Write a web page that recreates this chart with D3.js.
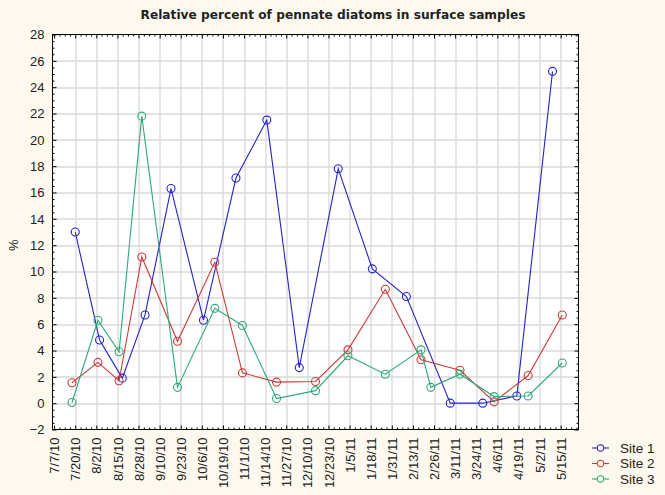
<!DOCTYPE html>
<html>
<head>
<meta charset="utf-8">
<script src="https://cdn.jsdelivr.net/npm/d3@7"></script>
<style>
  body { margin: 0; background: #fdf9ee; }
  svg { display: block; }
</style>
</head>
<body>
<div id="chart"></div>
<script>
var tickDates = ["7/7/10", "7/20/10", "8/2/10", "8/15/10", "8/28/10", "9/10/10", "9/23/10", "10/6/10",
  "10/19/10", "11/1/10", "11/14/10", "11/27/10", "12/10/10", "12/23/10", "1/5/11", "1/18/11",
  "1/31/11", "2/13/11", "2/26/11", "3/11/11", "3/24/11", "4/6/11", "4/19/11", "5/2/11", "5/15/11"];
var yTicks = [-2, 0, 2, 4, 6, 8, 10, 12, 14, 16, 18, 20, 22, 24, 26, 28];

var site1Dates = ["7/20/10", "8/4/10", "8/18/10", "9/1/10", "9/17/10", "10/7/10", "10/27/10", "11/15/10",
  "12/5/10", "12/29/10", "1/19/11", "2/9/11", "3/8/11", "3/28/11", "4/18/11", "5/10/11"];
var site1Values = [13.0, 4.8, 1.9, 6.7, 16.3, 6.3, 17.1, 21.5, 2.7, 17.8, 10.2, 8.1, 0, 0, 0.55, 25.2];

var site2Dates = ["7/18/10", "8/3/10", "8/16/10", "8/30/10", "9/21/10", "10/14/10", "10/31/10", "11/21/10",
  "12/15/10", "1/4/11", "1/27/11", "2/18/11", "3/14/11", "4/4/11", "4/25/11", "5/16/11"];
var site2Values = [1.55, 3.1, 1.7, 11.1, 4.7, 10.7, 2.3, 1.6, 1.65, 4.05, 8.65, 3.3, 2.5, 0.1, 2.1, 6.7];

var site3Dates = ["7/18/10", "8/3/10", "8/16/10", "8/30/10", "9/21/10", "10/14/10", "10/31/10", "11/21/10",
  "12/15/10", "1/4/11", "1/27/11", "2/18/11", "2/24/11", "3/14/11", "4/4/11", "4/25/11", "5/16/11"];
var site3Values = [0.05, 6.3, 3.9, 21.8, 1.2, 7.2, 5.9, 0.35, 0.95, 3.6, 2.2, 4.05, 1.2, 2.2, 0.5, 0.55, 3.05];

var seriesNames = ["Site 1", "Site 2", "Site 3"];
var seriesColors = ["#2424c4", "#cc3a3a", "#2fa878"];

var width = 665, height = 495;
var margin = {top: 34.5, right: 86.5, bottom: 65.5, left: 52.5};
var plotW = width - margin.left - margin.right,
    plotH = height - margin.top - margin.bottom;

var parseDate = d3.timeParse("%m/%d/%y");
var fmt = d3.timeFormat("%-m/%-d/%y");

var x = d3.scaleTime()
  .domain([new Date(2010, 6, 6), new Date(2011, 4, 26)])
  .range([0, plotW]);
var y = d3.scaleLinear()
  .domain([-2, 28])
  .range([plotH, 0]);

var svg = d3.select("#chart").append("svg")
  .attr("width", width)
  .attr("height", height);

svg.append("rect").attr("width", width).attr("height", height).attr("fill", "#fdf9ee");

svg.append("text")
  .attr("x", 333)
  .attr("y", 19)
  .attr("text-anchor", "middle")
  .style("font-family", "DejaVu Sans, sans-serif")
  .style("font-weight", "bold")
  .style("font-size", "12.2px")
  .attr("fill", "#222")
  .text("Relative percent of pennate diatoms in surface samples");

var g = svg.append("g")
  .attr("transform", "translate(" + margin.left + "," + margin.top + ")");

g.append("rect").attr("width", plotW).attr("height", plotH).attr("fill", "#fff");

var xTickVals = tickDates.map(parseDate);

// grid
g.append("g").selectAll("line.vg")
  .data(xTickVals.slice(1))
  .enter().append("line")
  .attr("x1", function (d) { return Math.round(x(d)) + 0.5; })
  .attr("x2", function (d) { return Math.round(x(d)) + 0.5; })
  .attr("y1", 0).attr("y2", plotH)
  .attr("stroke", "#d9d9d9").attr("stroke-width", 1.3);
g.append("g").selectAll("line.hg")
  .data(yTicks.slice(1, -1))
  .enter().append("line")
  .attr("y1", function (d) { return Math.round(y(d)) + 0.5; })
  .attr("y2", function (d) { return Math.round(y(d)) + 0.5; })
  .attr("x1", 0).attr("x2", plotW)
  .attr("stroke", "#d9d9d9").attr("stroke-width", 1.3);

// minor tick values
var xMinor = [];
for (var i = 0; i < xTickVals.length; i++) {
  for (var k = 1; k < 4; k++) {
    var t = d3.timeHour.offset(xTickVals[i], k * 78);
    if (x(t) < plotW) xMinor.push(t);
  }
}
var yMinor = [];
for (var j = 0; j < yTicks.length - 1; j++) {
  for (var m = 1; m < 4; m++) yMinor.push(yTicks[j] + m * 0.5);
}

function inwardTicks(sel, axisFn, scale, vals, size) {
  sel.call(axisFn(scale).tickValues(vals).tickSize(-size).tickFormat(""))
    .call(function (a) { a.select(".domain").remove(); })
    .selectAll("line").attr("stroke", "#000");
}

// bottom axis with labels
var xAxisG = g.append("g").attr("transform", "translate(0," + plotH + ")");
inwardTicks(xAxisG.append("g"), d3.axisBottom, x, xMinor, 2);
xAxisG.append("g")
  .call(d3.axisBottom(x).tickValues(xTickVals).tickSize(-4).tickFormat(fmt))
  .call(function (a) { a.select(".domain").remove(); })
  .call(function (a) { a.selectAll("line").attr("stroke", "#000"); })
  .selectAll("text")
  .attr("transform", "rotate(-90)")
  .attr("x", -8)
  .attr("y", 0)
  .attr("dy", "0.35em")
  .style("text-anchor", "end")
  .style("font-family", "Liberation Sans, Arial, sans-serif")
  .style("font-size", "13px")
  .attr("fill", "#222");

// top axis
var topG = g.append("g");
inwardTicks(topG.append("g"), d3.axisTop, x, xMinor, 2);
inwardTicks(topG.append("g"), d3.axisTop, x, xTickVals, 4);

// left axis
var yAxisG = g.append("g");
inwardTicks(yAxisG.append("g"), d3.axisLeft, y, yMinor, 2);
yAxisG.append("g")
  .call(d3.axisLeft(y).tickValues(yTicks).tickSize(-4).tickPadding(8))
  .call(function (a) { a.select(".domain").remove(); })
  .call(function (a) { a.selectAll("line").attr("stroke", "#000"); })
  .selectAll("text")
  .style("font-family", "Liberation Sans, Arial, sans-serif")
  .style("font-size", "13px")
  .attr("fill", "#222");

// right axis
var rightG = g.append("g").attr("transform", "translate(" + plotW + ",0)");
inwardTicks(rightG.append("g"), d3.axisRight, y, yMinor, 2);
inwardTicks(rightG.append("g"), d3.axisRight, y, yTicks, 4);

g.append("rect").attr("width", plotW).attr("height", plotH)
  .attr("fill", "none").attr("stroke", "#000").attr("stroke-width", 1);

svg.append("text")
  .attr("transform", "translate(18," + (margin.top + y(12)) + ") rotate(-90)")
  .attr("text-anchor", "middle")
  .style("font-family", "Liberation Sans, Arial, sans-serif")
  .style("font-size", "13px")
  .attr("fill", "#222")
  .text("%");

// series
var series = [
  {dates: site1Dates, values: site1Values},
  {dates: site2Dates, values: site2Values},
  {dates: site3Dates, values: site3Values}
];

var line = d3.line()
  .x(function (d) { return x(d.date); })
  .y(function (d) { return y(d.value); });

series.forEach(function (s, si) {
  var pts = s.dates.map(function (d, i) { return {date: parseDate(d), value: s.values[i]}; });
  g.append("path")
    .datum(pts)
    .attr("d", line)
    .attr("fill", "none")
    .attr("stroke", seriesColors[si])
    .attr("stroke-width", 1.1);
  g.selectAll(".pt" + si)
    .data(pts)
    .enter().append("circle")
    .attr("class", "pt" + si)
    .attr("cx", function (d) { return x(d.date); })
    .attr("cy", function (d) { return y(d.value); })
    .attr("r", 4)
    .attr("fill", "none")
    .attr("stroke", seriesColors[si])
    .attr("stroke-width", 1.1);
});

// legend
var legend = svg.append("g").attr("transform", "translate(592,448)");
seriesNames.forEach(function (name, i) {
  var row = legend.append("g").attr("transform", "translate(0," + (i * 15.5) + ")");
  row.append("line").attr("x1", 0).attr("x2", 17).attr("y1", 0).attr("y2", 0)
    .attr("stroke", seriesColors[i]).attr("stroke-width", 1.1);
  row.append("circle").attr("cx", 8.5).attr("cy", 0).attr("r", 3.3)
    .attr("fill", "#fdf9ee").attr("stroke", seriesColors[i]).attr("stroke-width", 1.1);
  row.append("text").attr("x", 28).attr("y", 0).attr("dy", "0.35em")
    .style("font-family", "Liberation Sans, Arial, sans-serif")
    .style("font-size", "13.5px")
    .attr("fill", "#222")
    .text(name);
});
</script>
</body>
</html>
